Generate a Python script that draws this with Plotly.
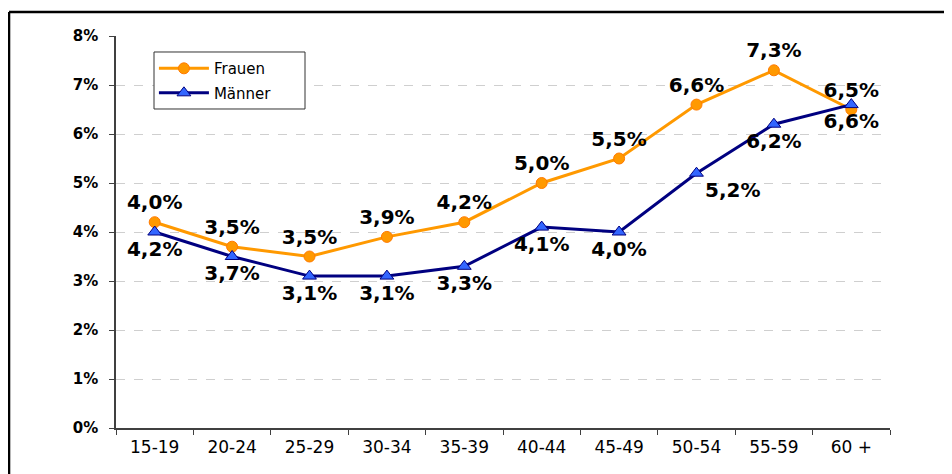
import plotly.graph_objects as go

categories = ["15-19", "20-24", "25-29", "30-34", "35-39", "40-44", "45-49", "50-54", "55-59", "60 +"]
frauen = [4.2, 3.7, 3.5, 3.9, 4.2, 5.0, 5.5, 6.6, 7.3, 6.5]
maenner = [4.0, 3.5, 3.1, 3.1, 3.3, 4.1, 4.0, 5.2, 6.2, 6.6]
frauen_labels = ["4,0%", "3,5%", "3,5%", "3,9%", "4,2%", "5,0%", "5,5%", "6,6%", "7,3%", "6,5%"]
maenner_labels = ["4,2%", "3,7%", "3,1%", "3,1%", "3,3%", "4,1%", "4,0%", "5,2%", "6,2%", "6,6%"]
y_ticks = [0, 1, 2, 3, 4, 5, 6, 7, 8]
y_tick_labels = ["0%", "1%", "2%", "3%", "4%", "5%", "6%", "7%", "8%"]

label_font = dict(family="DejaVu Sans", size=20, color="#000000", weight="bold")

maenner_pos = ["bottom center"] * len(maenner)
maenner_pos[7] = "bottom right"

fig = go.Figure()
fig.add_trace(go.Scatter(
    x=categories, y=frauen, name="Frauen", mode="lines+markers+text",
    line=dict(color="#FF9900", width=3),
    marker=dict(symbol="circle", size=11, color="#FF9900", line=dict(color="#FF7A00", width=1)),
    text=frauen_labels, textposition="top center", textfont=label_font,
    legendgroup="f",
))
fig.add_trace(go.Scatter(
    x=categories, y=maenner, name="Männer", mode="lines+markers+text",
    line=dict(color="#000080", width=3),
    marker=dict(symbol="triangle-up", size=12, color="#3366FF", line=dict(color="#000080", width=1)),
    text=maenner_labels, textposition=maenner_pos, textfont=label_font,
    legendgroup="m",
))

fig.update_layout(
    width=944, height=466,
    margin=dict(l=108, r=62, t=28, b=46),
    paper_bgcolor="white", plot_bgcolor="white",
    showlegend=True,
    legend=dict(
        x=0.049, y=0.959, xanchor="left", yanchor="top",
        bgcolor="rgba(0,0,0,0)", borderwidth=0,
        font=dict(family="DejaVu Sans", size=15, color="#000000"),
        tracegroupgap=2, itemwidth=50,
    ),
    xaxis=dict(
        type="category", tickson="boundaries",
        range=[-0.5, 9.5],
        showline=True, linecolor="#404040", linewidth=1.5,
        ticks="outside", ticklen=5, tickcolor="#404040",
        showgrid=False, zeroline=False,
        tickfont=dict(family="DejaVu Sans", size=17, color="#000000"),
        ticklabelstandoff=3,
    ),
    yaxis=dict(
        range=[0, 8], tickvals=y_ticks, ticktext=y_tick_labels,
        showline=True, linecolor="#404040", linewidth=1.5,
        ticks="outside", ticklen=5, tickcolor="#404040",
        showgrid=True, gridcolor="#CFCFCF", griddash="dash", gridwidth=1,
        zeroline=False,
        tickfont=dict(family="DejaVu Sans", size=15, color="#000000", weight="bold"),
        ticklabelstandoff=8,
    ),
    shapes=[
        dict(type="rect", xref="paper", yref="paper", x0=0.0491, x1=0.2442, y0=0.8138, y1=0.9592,
             fillcolor="white", line=dict(color="#333333", width=1), layer="above"),
        dict(type="line", xref="paper", yref="paper", x0=-0.1382, x1=1.2, y0=1.0612, y1=1.0612,
             line=dict(color="#000000", width=2.5)),
        dict(type="line", xref="paper", yref="paper", x0=-0.1382, x1=-0.1382, y0=1.0612, y1=-0.3,
             line=dict(color="#000000", width=2.5)),
    ],
)

fig.write_html("out.html")
